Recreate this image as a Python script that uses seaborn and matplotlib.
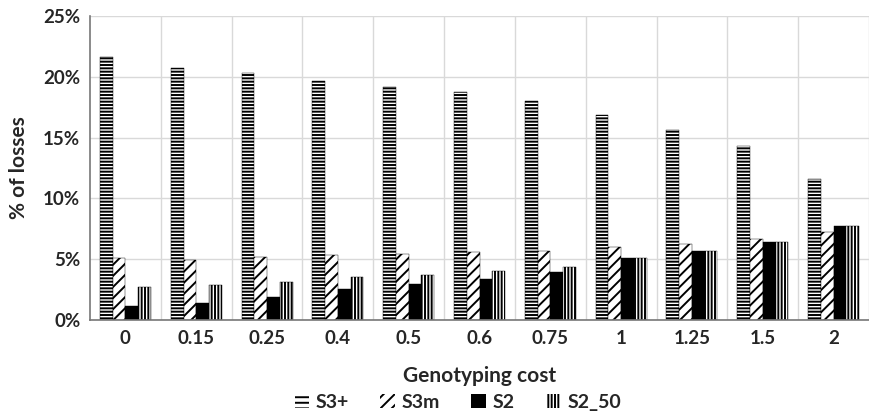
import pandas as pd
import seaborn as sns
import matplotlib.pyplot as plt

costs = ['0', '0.15', '0.25', '0.4', '0.5', '0.6', '0.75', '1', '1.25', '1.5', '2']
s3_plus = [21.6, 20.7, 20.3, 19.65, 19.13, 18.77, 18.03, 16.86, 15.63, 14.34, 11.61]
s3m = [5.1, 4.97, 5.16, 5.33, 5.39, 5.57, 5.71, 6.02, 6.26, 6.67, 7.25]
s2 = [1.15, 1.43, 1.92, 2.52, 2.93, 3.34, 3.93, 5.08, 5.66, 6.39, 7.76]
s2_50 = [2.75, 2.87, 3.11, 3.56, 3.72, 3.99, 4.34, 5.08, 5.66, 6.39, 7.76]
series = ['S3+', 'S3m', 'S2', 'S2_50']

# long format for seaborn
rows = []
for name, vals in zip(series, [s3_plus, s3m, s2, s2_50]):
    for c, v in zip(costs, vals):
        rows.append({'cost': c, 'value': v, 'series': name})
df = pd.DataFrame(rows)

sns.set_style('white')
plt.rcParams['font.family'] = ['Lato', 'DejaVu Sans']
plt.rcParams['font.weight'] = 'bold'
plt.rcParams['hatch.linewidth'] = 1.4

fig = plt.figure(figsize=(8.69, 4.16), dpi=100)
ax = fig.add_axes([0.1036, 0.2308, 0.8964, 0.7308])

fills = {'S3+': 'white', 'S3m': 'white', 'S2': 'black', 'S2_50': 'white'}
sns.barplot(data=df, x='cost', y='value', hue='series', order=costs,
            hue_order=series, palette=fills, width=0.72, gap=0,
            edgecolor='black', linewidth=0.3, ax=ax)

hatches = {'S3+': '-----', 'S3m': '///', 'S2': '', 'S2_50': '|||||'}
for cont, name in zip(ax.containers, series):
    for bar in cont:
        bar.set_hatch(hatches[name])

ax.set_ylim(0, 25)
ax.set_xlim(-0.5, len(costs) - 0.5)
ax.set_yticks(range(0, 26, 5))
ax.set_yticklabels([f'{t}%' for t in range(0, 26, 5)], fontsize=13.5, fontweight='bold')
ax.set_xticklabels(costs, fontsize=13.5, fontweight='bold')
ax.tick_params(axis='both', length=0, pad=7)

# gridlines: horizontal at y ticks, vertical between categories
ax.set_axisbelow(True)
ax.yaxis.grid(True, color='#d9d9d9', linewidth=1)
ax.set_xticks([i + 0.5 for i in range(len(costs))], minor=True)
ax.xaxis.grid(True, which='minor', color='#d9d9d9', linewidth=1)
ax.tick_params(axis='x', which='minor', length=0)

for side in ['top', 'right']:
    ax.spines[side].set_visible(False)
for side in ['left', 'bottom']:
    ax.spines[side].set_color('#777777')
    ax.spines[side].set_linewidth(1.2)

ax.set_xlabel('Genotyping cost', fontsize=15, fontweight='bold', labelpad=14)
ax.set_ylabel('% of losses', fontsize=15, fontweight='bold', labelpad=10)

handles, labels = ax.get_legend_handles_labels()
leg = ax.legend(handles, labels, loc='center', bbox_to_anchor=(0.472, -0.27),
                ncol=4, frameon=False, handlelength=0.75,
                handleheight=0.75, handletextpad=0.35, columnspacing=1.6,
                prop={'weight': 'bold', 'size': 14})
for h, name in zip(leg.legend_handles, series):
    h.set_hatch(hatches[name].replace('-----', '---'))
    h.set_edgecolor('black')
    h.set_linewidth(0)

fig.savefig('out.png', dpi=100)
